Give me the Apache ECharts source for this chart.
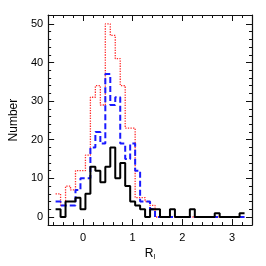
<!DOCTYPE html>
<html><head><meta charset="utf-8">
<script src="https://cdn.jsdelivr.net/npm/echarts@6/dist/echarts.min.js"></script>
<style>html,body{margin:0;padding:0;background:#fff}#c{width:266px;height:266px}</style>
</head><body><div id="c"></div>
<script>
const binCenters = [-0.5,-0.4,-0.3,-0.2,-0.1,0,0.1,0.2,0.3,0.4,0.5,0.6,0.7,0.8,0.9,1.0,1.1,1.2,1.3,1.4,1.5,1.6,1.7,1.8,1.9,2.0,2.1,2.2,2.3,2.4,2.5,2.6,2.7,2.8,2.9,3.0,3.1,3.2];
const redCounts   = [6,3,8,7,12,12,16,31,34,29,50,47,41,34,23,23,5,5,4,3,0,0,0,0,0,0,0,0,0,0,0,0,0,0,0,0,0,0];
const blueCounts  = [4,3,3,3,7,10,10,18,22,19,37,29,31,19,15,19,12,4,4,2,0,0,0,0,0,0,0,0,0,0,0,0,0,0,0,0,0,0];
const blackCounts = [2,0,4,4,5,2,6,13,12,9,13,18,10,14,8,4,3,2,0,2,2,0,0,2,0,0,0,2,0,0,0,0,1,0,0,0,0,1];
const binWidth = 0.1;
const xMajorTicks = [0,1,2,3];
const xMinorTicks = [-0.6,-0.4,-0.2,0.2,0.4,0.6,0.8,1.2,1.4,1.6,1.8,2.2,2.4,2.6,2.8,3.2];
const yMajorTicks = [0,10,20,30,40,50];
const yMinorTicks = [2,4,6,8,12,14,16,18,22,24,26,28,32,34,36,38,42,44,46,48];
const xRange = [-0.7, 3.4];
const yRange = [-2.1, 52.3];

function stepData(counts){
  const pts = binCenters.map((c,i)=>[+(c - binWidth/2).toFixed(3), counts[i]]);
  pts.push([+(binCenters[binCenters.length-1] + binWidth/2).toFixed(3), counts[counts.length-1]]);
  return pts;
}
const FONT = 'Liberation Sans';
const axisCol = '#111';
function xAx(pos, ticks, len, main){
  return {
    type:'value', position:pos, min:xRange[0], max:xRange[1],
    axisLine:{show:main, onZero:false, lineStyle:{color:axisCol,width:1.2}},
    axisTick:{show:true, inside:true, length:len, customValues:ticks, lineStyle:{color:axisCol,width:1}},
    axisLabel:{show:main && pos==='bottom', customValues:xMajorTicks, color:'#000', fontFamily:FONT, fontSize:11, margin:7},
    splitLine:{show:false},
    name: (main && pos==='bottom') ? '{r|R}{s|I}' : '',
    nameLocation:'middle', nameGap:19,
    nameTextStyle:{rich:{r:{fontFamily:FONT,fontSize:12,color:'#000'},s:{fontFamily:FONT,fontSize:7,color:'#000',padding:[7,0,0,0]}}}
  };
}
function yAx(pos, ticks, len, main){
  return {
    type:'value', position:pos, min:yRange[0], max:yRange[1],
    axisLine:{show:main, onZero:false, lineStyle:{color:axisCol,width:1.2}},
    axisTick:{show:true, inside:true, length:len, customValues:ticks, lineStyle:{color:axisCol,width:1}},
    axisLabel:{show:main && pos==='left', customValues:yMajorTicks, color:'#000', fontFamily:FONT, fontSize:11, margin:5},
    splitLine:{show:false},
    name: (main && pos==='left') ? 'Number' : '',
    nameLocation:'middle', nameGap:21, nameRotate:90,
    nameTextStyle:{fontFamily:FONT,fontSize:12,color:'#000'}
  };
}
const chart = echarts.init(document.getElementById('c'), null, {renderer:'canvas'});
chart.setOption({
  animation:false,
  backgroundColor:'#fff',
  grid:{left:29,right:14,top:15,bottom:30,containLabel:false},
  xAxis:[xAx('bottom',xMinorTicks,3,true), xAx('bottom',xMajorTicks,6,false), xAx('top',xMinorTicks,3,true), xAx('top',xMajorTicks,6,false)],
  yAxis:[yAx('left',yMinorTicks,3,true), yAx('left',yMajorTicks,6,false), yAx('right',yMinorTicks,3,true), yAx('right',yMajorTicks,6,false)],
  series:[
    {type:'line', step:'end', data:stepData(redCounts), showSymbol:false, z:1,
     lineStyle:{color:'#ff2a2a', width:1.3, type:[1.3,1.3]}},
    {type:'line', step:'end', data:stepData(blueCounts), showSymbol:false, z:2,
     lineStyle:{color:'#1a1aff', width:2, type:[6,3]}},
    {type:'line', step:'end', data:stepData(blackCounts), showSymbol:false, z:3,
     lineStyle:{color:'#000', width:2}}
  ]
});
</script></body></html>
